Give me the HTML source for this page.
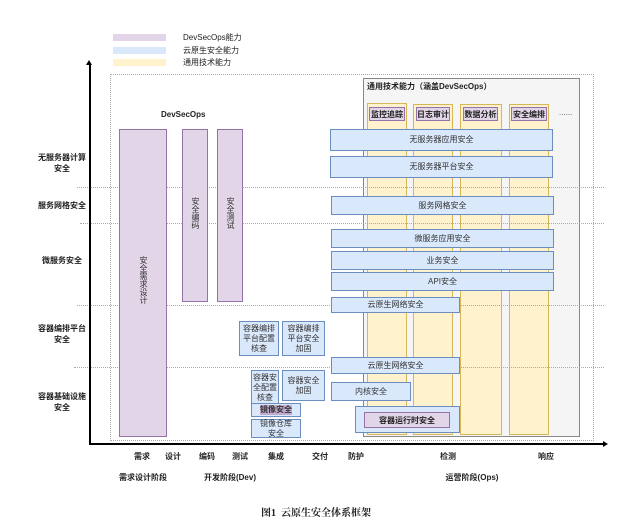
<!DOCTYPE html>
<html><head><meta charset="utf-8"><style>
body{margin:0;width:632px;height:528px;background:#fff;position:relative;overflow:hidden;font-family:"Liberation Sans","Noto Sans CJK SC",sans-serif;color:#222}
div{position:absolute;box-sizing:border-box}
.t{font-size:8px;white-space:nowrap}
.b{font-weight:bold}
.blue{background:#dae8fc;border:1px solid #6c8ebf;font-size:8px;display:flex;align-items:center;justify-content:center;text-align:center;line-height:10px;color:#333}
.pur{background:#e1d5e7;border:1px solid #9673a6}
.yel{background:#fff2cc;border:1px solid #d6b656}
.hd{background:#e1d5e7;border:1px solid #9673a6;font-size:8px;font-weight:bold;display:flex;align-items:center;justify-content:center}
.hl{border-top:1px dotted #aaa;height:0}
.vt{writing-mode:vertical-rl;text-orientation:upright;font-size:8px;line-height:10px;color:#333}
.c{transform:translateX(-50%);text-align:center}
</style></head><body>
<div style="left:113px;top:34px;width:53px;height:7px;background:#e1d5e7"></div>
<div style="left:113px;top:47px;width:53px;height:7px;background:#dae8fc"></div>
<div style="left:113px;top:59px;width:53px;height:7px;background:#fff2cc"></div>
<div class="t" style="left:183px;top:32px">DevSecOps能力</div>
<div class="t" style="left:183px;top:45px">云原生安全能力</div>
<div class="t" style="left:183px;top:57px">通用技术能力</div>
<div style="left:110px;top:74px;width:484px;height:367px;border:1px dotted #aaa"></div>
<div style="left:363px;top:78px;width:217px;height:359px;background:#f5f5f5;border:1px solid #888"></div>
<div class="t b" style="left:367px;top:81px">通用技术能力（涵盖DevSecOps）</div>
<div class="yel" style="left:367px;top:103px;width:40px;height:332px"></div>
<div class="yel" style="left:413px;top:104px;width:40px;height:331px"></div>
<div class="yel" style="left:460px;top:104px;width:42px;height:331px"></div>
<div class="yel" style="left:509px;top:104px;width:40px;height:331px"></div>
<div class="hd" style="left:369px;top:107px;width:36px;height:14px">监控追踪</div>
<div class="hd" style="left:416px;top:107px;width:34px;height:14px">日志审计</div>
<div class="hd" style="left:463px;top:107px;width:35px;height:14px">数据分析</div>
<div class="hd" style="left:511px;top:107px;width:36px;height:14px">安全编排</div>
<div class="t" style="left:559px;top:108px;color:#555">......</div>
<div class="hl" style="left:77px;top:187px;width:527px"></div>
<div class="hl" style="left:80px;top:223px;width:524px"></div>
<div class="hl" style="left:77px;top:305px;width:527px"></div>
<div class="hl" style="left:74px;top:367px;width:530px"></div>
<div style="left:89px;top:64px;width:1.5px;height:380px;background:#000"></div>
<div style="left:86px;top:60px;width:0;height:0;border-left:3.5px solid transparent;border-right:3.5px solid transparent;border-bottom:5px solid #000"></div>
<div style="left:89px;top:443px;width:515px;height:1.5px;background:#000"></div>
<div style="left:603px;top:440.5px;width:0;height:0;border-top:3.5px solid transparent;border-bottom:3.5px solid transparent;border-left:5px solid #000"></div>
<div class="t b c" style="left:62px;top:152px;line-height:11px">无服务器计算<br>安全</div>
<div class="t b c" style="left:62px;top:200px">服务网格安全</div>
<div class="t b c" style="left:62px;top:255px">微服务安全</div>
<div class="t b c" style="left:62px;top:323px;line-height:11px">容器编排平台<br>安全</div>
<div class="t b c" style="left:62px;top:391px;line-height:11px">容器基础设施<br>安全</div>
<div class="t b" style="left:161px;top:110px">DevSecOps</div>
<div class="pur" style="left:119px;top:129px;width:48px;height:308px"></div>
<div class="vt" style="left:138px;top:256px">安全需求设计</div>
<div class="pur" style="left:182px;top:129px;width:26px;height:173px"></div>
<div class="vt" style="left:190px;top:197px">安全编码</div>
<div class="pur" style="left:217px;top:129px;width:26px;height:173px"></div>
<div class="vt" style="left:225px;top:197px">安全测试</div>
<div class="blue" style="left:330px;top:129px;width:223px;height:22px">无服务器应用安全</div>
<div class="blue" style="left:330px;top:156px;width:223px;height:22px">无服务器平台安全</div>
<div class="blue" style="left:331px;top:196px;width:223px;height:19px">服务网格安全</div>
<div class="blue" style="left:331px;top:229px;width:223px;height:19px">微服务应用安全</div>
<div class="blue" style="left:331px;top:251px;width:223px;height:19px">业务安全</div>
<div class="blue" style="left:331px;top:272px;width:223px;height:19px">API安全</div>
<div class="blue" style="left:331px;top:297px;width:129px;height:16px">云原生网络安全</div>
<div class="blue" style="left:239px;top:321px;width:40px;height:35px">容器编排<br>平台配置<br>核查</div>
<div class="blue" style="left:282px;top:321px;width:43px;height:35px">容器编排<br>平台安全<br>加固</div>
<div class="blue" style="left:331px;top:357px;width:129px;height:17px">云原生网络安全</div>
<div class="blue" style="left:251px;top:370px;width:28px;height:35px">容器安<br>全配置<br>核查</div>
<div class="blue" style="left:282px;top:370px;width:43px;height:31px">容器安全<br>加固</div>
<div class="blue" style="left:331px;top:382px;width:80px;height:19px">内核安全</div>
<div class="blue b" style="left:251px;top:403px;width:50px;height:14px"><span style="background:#c3abd0">镜像安全</span></div>
<div class="blue" style="left:251px;top:419px;width:50px;height:19px">镜像仓库<br>安全</div>
<div class="blue" style="left:355px;top:406px;width:105px;height:27px"></div>
<div class="hd" style="left:364px;top:412px;width:86px;height:16px">容器运行时安全</div>
<div class="t b c" style="left:142px;top:451px">需求</div>
<div class="t b c" style="left:173px;top:451px">设计</div>
<div class="t b c" style="left:207px;top:451px">编码</div>
<div class="t b c" style="left:240px;top:451px">测试</div>
<div class="t b c" style="left:276px;top:451px">集成</div>
<div class="t b c" style="left:320px;top:451px">交付</div>
<div class="t b c" style="left:356px;top:451px">防护</div>
<div class="t b c" style="left:448px;top:451px">检测</div>
<div class="t b c" style="left:546px;top:451px">响应</div>
<div class="t b c" style="left:143px;top:472px">需求设计阶段</div>
<div class="t b c" style="left:230px;top:472px">开发阶段(Dev)</div>
<div class="t b c" style="left:472px;top:472px">运营阶段(Ops)</div>
<div class="c b" style="left:316px;top:504px;font-family:'Liberation Serif','Noto Serif CJK SC',serif;font-size:10px;white-space:nowrap">图1&nbsp;&nbsp;云原生安全体系框架</div>
</body></html>
